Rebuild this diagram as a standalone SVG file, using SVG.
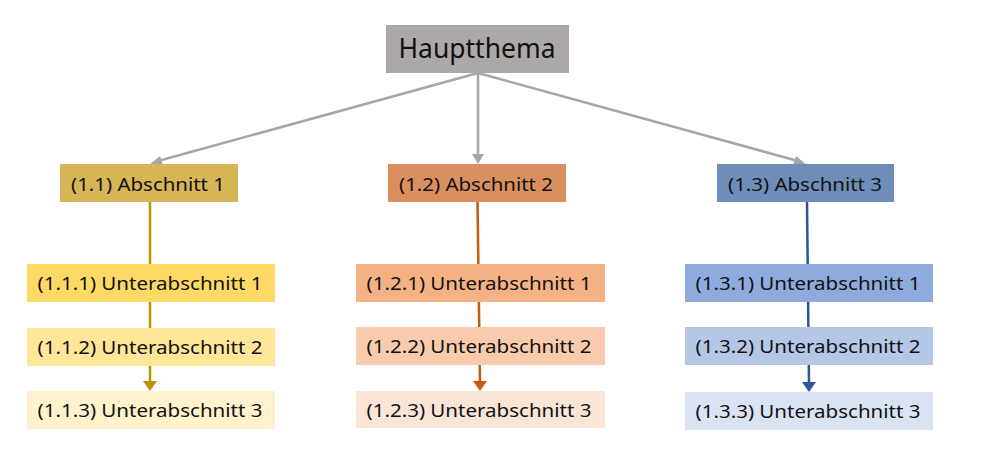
<svg xmlns="http://www.w3.org/2000/svg" width="981" height="454" viewBox="0 0 981 454">
<defs>
<style>
text{font-family:"Noto Sans","Open Sans","Liberation Sans",sans-serif;fill:#111;font-size:18px;text-anchor:middle}
.h{font-size:27px}
.g{stroke:#A6A6A6;stroke-width:2.5;fill:none}
</style>
<marker id="ag" viewBox="0 0 10 10" refX="9" refY="5" markerWidth="5" markerHeight="5" orient="auto" markerUnits="userSpaceOnUse" style="overflow:visible">
<path d="M0,0 L10,5 L0,10 z" fill="#A6A6A6" transform="scale(1.3)"/>
</marker>
</defs>
<rect width="981" height="454" fill="#fff"/>
<g id="connectors">
<line class="g" x1="478" y1="73" x2="158" y2="161"/>
<polygon points="149,165 160,156 163,165" fill="#A6A6A6"/>
<line class="g" x1="478" y1="73" x2="478" y2="155"/>
<polygon points="472,154 484,154 478,164" fill="#A6A6A6"/>
<line class="g" x1="478" y1="73" x2="798" y2="161"/>
<polygon points="807,165 793,165 796,156" fill="#A6A6A6"/>
<line x1="150" y1="202" x2="150" y2="383" stroke="#BF9000" stroke-width="2.5"/>
<polygon points="143,381 157,381 150,391" fill="#BF9000"/>
<line x1="477.5" y1="202" x2="480" y2="383" stroke="#C55A11" stroke-width="2.5"/>
<polygon points="473,381 487,381 480,391" fill="#C55A11"/>
<line x1="807" y1="202" x2="809" y2="384" stroke="#2F5597" stroke-width="2.5"/>
<polygon points="802,382 816,382 809,392" fill="#2F5597"/>
</g>
<g id="haupt">
<rect x="386" y="25" width="183" height="48" fill="#ACA8A8"/>
<text class="h" x="477" y="58" textLength="157" lengthAdjust="spacingAndGlyphs">Hauptthema</text>
</g>
<g id="a1">
<rect x="60" y="164" width="178" height="38" fill="#D5B555"/>
<text x="148" y="191" textLength="154" lengthAdjust="spacingAndGlyphs">(1.1) Abschnitt 1</text>
</g>
<g id="a2">
<rect x="388" y="164" width="178" height="38" fill="#D98F5E"/>
<text x="476" y="191" textLength="154" lengthAdjust="spacingAndGlyphs">(1.2) Abschnitt 2</text>
</g>
<g id="a3">
<rect x="717" y="164" width="177" height="38" fill="#6F8DB9"/>
<text x="805" y="191" textLength="154" lengthAdjust="spacingAndGlyphs">(1.3) Abschnitt 3</text>
</g>
<g id="u111">
<rect x="27" y="264" width="248" height="38" fill="#FFD966"/>
<text x="150" y="290" textLength="225" lengthAdjust="spacingAndGlyphs">(1.1.1) Unterabschnitt 1</text>
</g>
<g id="u112">
<rect x="27" y="328" width="248" height="38" fill="#FFE699"/>
<text x="150" y="354" textLength="225" lengthAdjust="spacingAndGlyphs">(1.1.2) Unterabschnitt 2</text>
</g>
<g id="u113">
<rect x="27" y="391" width="248" height="38" fill="#FFF2CC"/>
<text x="150" y="417" textLength="225" lengthAdjust="spacingAndGlyphs">(1.1.3) Unterabschnitt 3</text>
</g>
<g id="u121">
<rect x="356" y="264" width="249" height="38" fill="#F4B183"/>
<text x="479" y="290" textLength="225" lengthAdjust="spacingAndGlyphs">(1.2.1) Unterabschnitt 1</text>
</g>
<g id="u122">
<rect x="356" y="327" width="249" height="38" fill="#F8CBAD"/>
<text x="479" y="353" textLength="225" lengthAdjust="spacingAndGlyphs">(1.2.2) Unterabschnitt 2</text>
</g>
<g id="u123">
<rect x="356" y="391" width="249" height="37" fill="#FBE5D6"/>
<text x="479" y="417" textLength="225" lengthAdjust="spacingAndGlyphs">(1.2.3) Unterabschnitt 3</text>
</g>
<g id="u131">
<rect x="685" y="264" width="248" height="38" fill="#8FAADC"/>
<text x="808" y="290" textLength="225" lengthAdjust="spacingAndGlyphs">(1.3.1) Unterabschnitt 1</text>
</g>
<g id="u132">
<rect x="685" y="327" width="248" height="38" fill="#B4C7E7"/>
<text x="808" y="353" textLength="225" lengthAdjust="spacingAndGlyphs">(1.3.2) Unterabschnitt 2</text>
</g>
<g id="u133">
<rect x="685" y="392" width="248" height="38" fill="#DAE3F3"/>
<text x="808" y="418" textLength="225" lengthAdjust="spacingAndGlyphs">(1.3.3) Unterabschnitt 3</text>
</g>
</svg>
